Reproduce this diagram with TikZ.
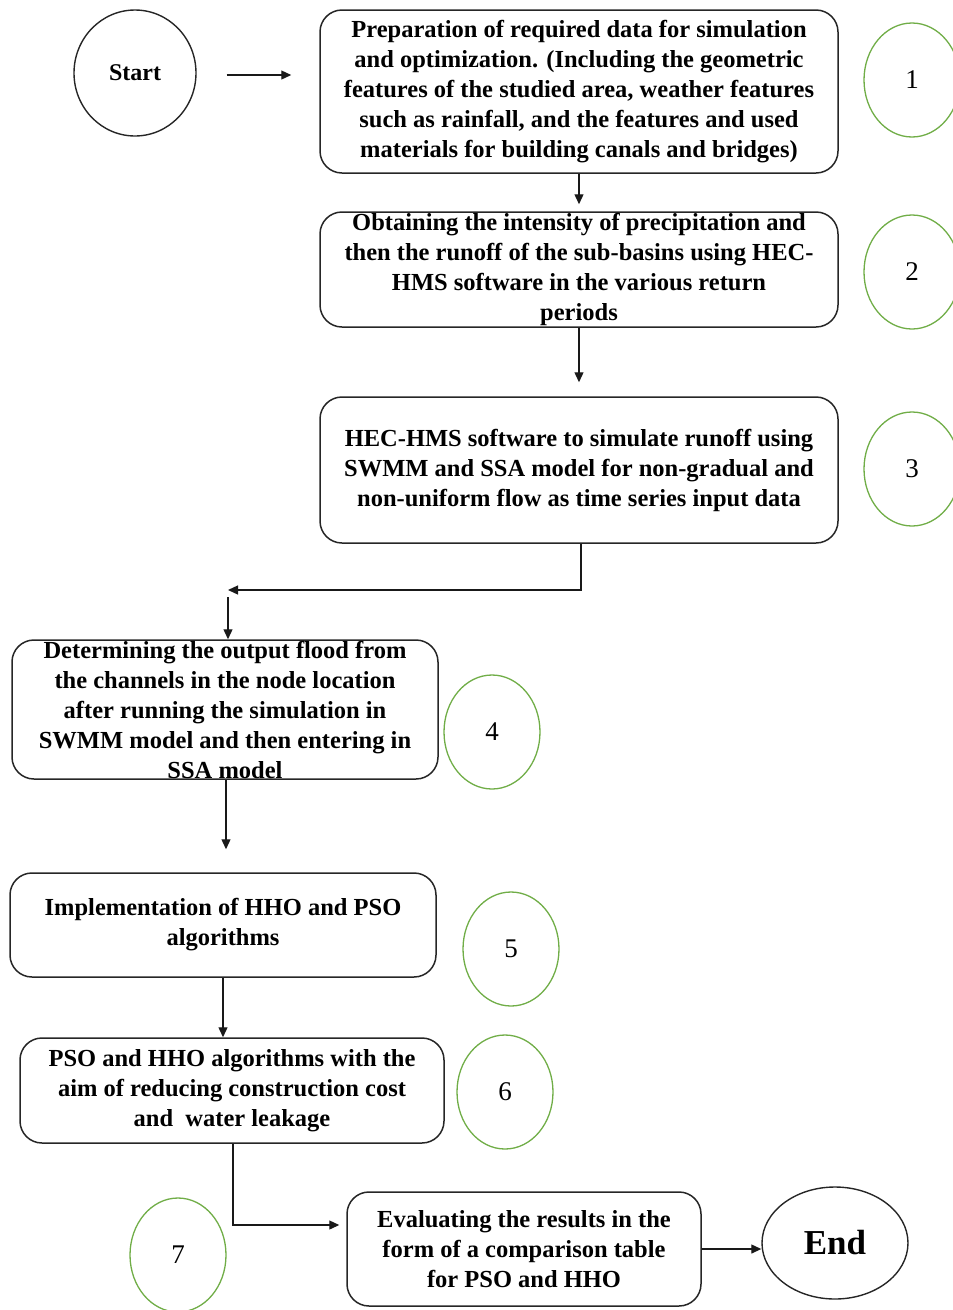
\documentclass[tikz,border=0pt]{standalone}
\usepackage{fontspec}
\setmainfont{Liberation Serif}
\usetikzlibrary{shapes.geometric, arrows.meta, calc}
\definecolor{numgreen}{RGB}{112,173,71}
\tikzset{
x=1pt, y=-1pt, % one unit is one pixel of the layout, y runs down
>={Triangle[length=10pt,width=9pt]}, % filled arrow heads
flow/.style={->, line width=1.3pt, draw=black!90}, % the connectors
stage/.style={draw=black!85, line width=1.5pt, rounded corners=22pt, align=center, inner sep=0pt,
  font=\bfseries\fontsize{24.5}{30}\selectfont}, % the rounded boxes
term/.style={ellipse, draw=black!85, line width=1.4pt, inner sep=0pt}, % start and end
num/.style={ellipse, draw=numgreen, line width=1.3pt, minimum width=96pt, minimum height=114pt,
  font=\fontsize{27}{30}\selectfont}, % green step numbers
}

\begin{document}
\begin{tikzpicture}
      \useasboundingbox (0,0) rectangle (953,1310);
      % start and end
      \node[term, minimum width=122pt, minimum height=126pt, font=\bfseries\fontsize{24}{28}\selectfont] (start) at (135,73) {Start};
      \node[term, minimum width=146pt, minimum height=112pt, font=\bfseries\fontsize{35}{40}\selectfont] (end) at (835,1243) {End};
      % the boxes
      \node[stage, minimum width=518pt, minimum height=163pt] (b1) at (579,91.5) {Preparation of required data for simulation\\ and optimization. (Including the geometric\\ features of the studied area, weather features\\ such as rainfall, and the features and used\\ materials for building canals and bridges)};
      \node[stage, minimum width=518pt, minimum height=115pt] (b2) at (579,269.5) {Obtaining the intensity of precipitation and\\ then the runoff of the sub-basins using HEC-\\ HMS software in the various return\\ periods};
      \node[stage, minimum width=518pt, minimum height=146pt] (b3) at (579,470) {HEC-HMS software to simulate runoff using\\ SWMM and SSA model for non-gradual and\\ non-uniform flow as time series input data};
      \node[stage, minimum width=426pt, minimum height=139pt] (b4) at (225,709.5) {Determining the output flood from\\ the channels in the node location\\ after running the simulation in\\ SWMM model and then entering in\\ SSA model};
      \node[stage, minimum width=426pt, minimum height=104pt] (b5) at (223,925) {Implementation of HHO and PSO\\ algorithms};
      \node[stage, minimum width=424pt, minimum height=105pt] (b6) at (232,1090.5) {PSO and HHO algorithms with the\\ aim of reducing construction cost\\ and\ \ water leakage};
      \node[stage, minimum width=354pt, minimum height=114pt] (b7) at (524,1249) {Evaluating the results in the\\ form of a comparison table\\ for PSO and HHO};
      % green numbers
      \node[num] (n1) at (912,80) {1};
      \node[num] (n2) at (912,272) {2};
      \node[num] (n3) at (912,469) {3};
      \node[num] (n4) at (492,732) {4};
      \node[num] (n5) at (511,949) {5};
      \node[num] (n6) at (505,1092) {6};
      \node[num] (n7) at (178,1255) {7};
      \coordinate (bend) at (228,590);
      % connectors
      \draw[flow, shorten <=30pt, shorten >=28pt] ($(start.east)+(0,2)$) -- ($(start.east -| b1.west)+(0,2)$);
      \draw[flow, shorten >=7pt] (b1.south) -- (b2.north);
      \draw[flow, shorten >=14pt] (b2.south) -- (b3.north);
      \draw[flow] ($(b3.south)+(2,0)$) |- (bend);
      \draw[flow, shorten <=7pt] (bend) -- (bend |- b4.north);
      \draw[flow, shorten >=23pt] ($(b4.south)+(1,0)$) -- ($(b4.south |- b5.north)+(1,0)$);
      \draw[flow] (b5.south) -- (b5.south |- b6.north);
      \draw[flow, shorten >=7pt] ($(b6.south)+(1,0)$) |- ($(b7.west)+(0,-24)$);
      \draw[flow] (b7.east) -- (b7.east -| end.west);
    \end{tikzpicture}
\end{document}
